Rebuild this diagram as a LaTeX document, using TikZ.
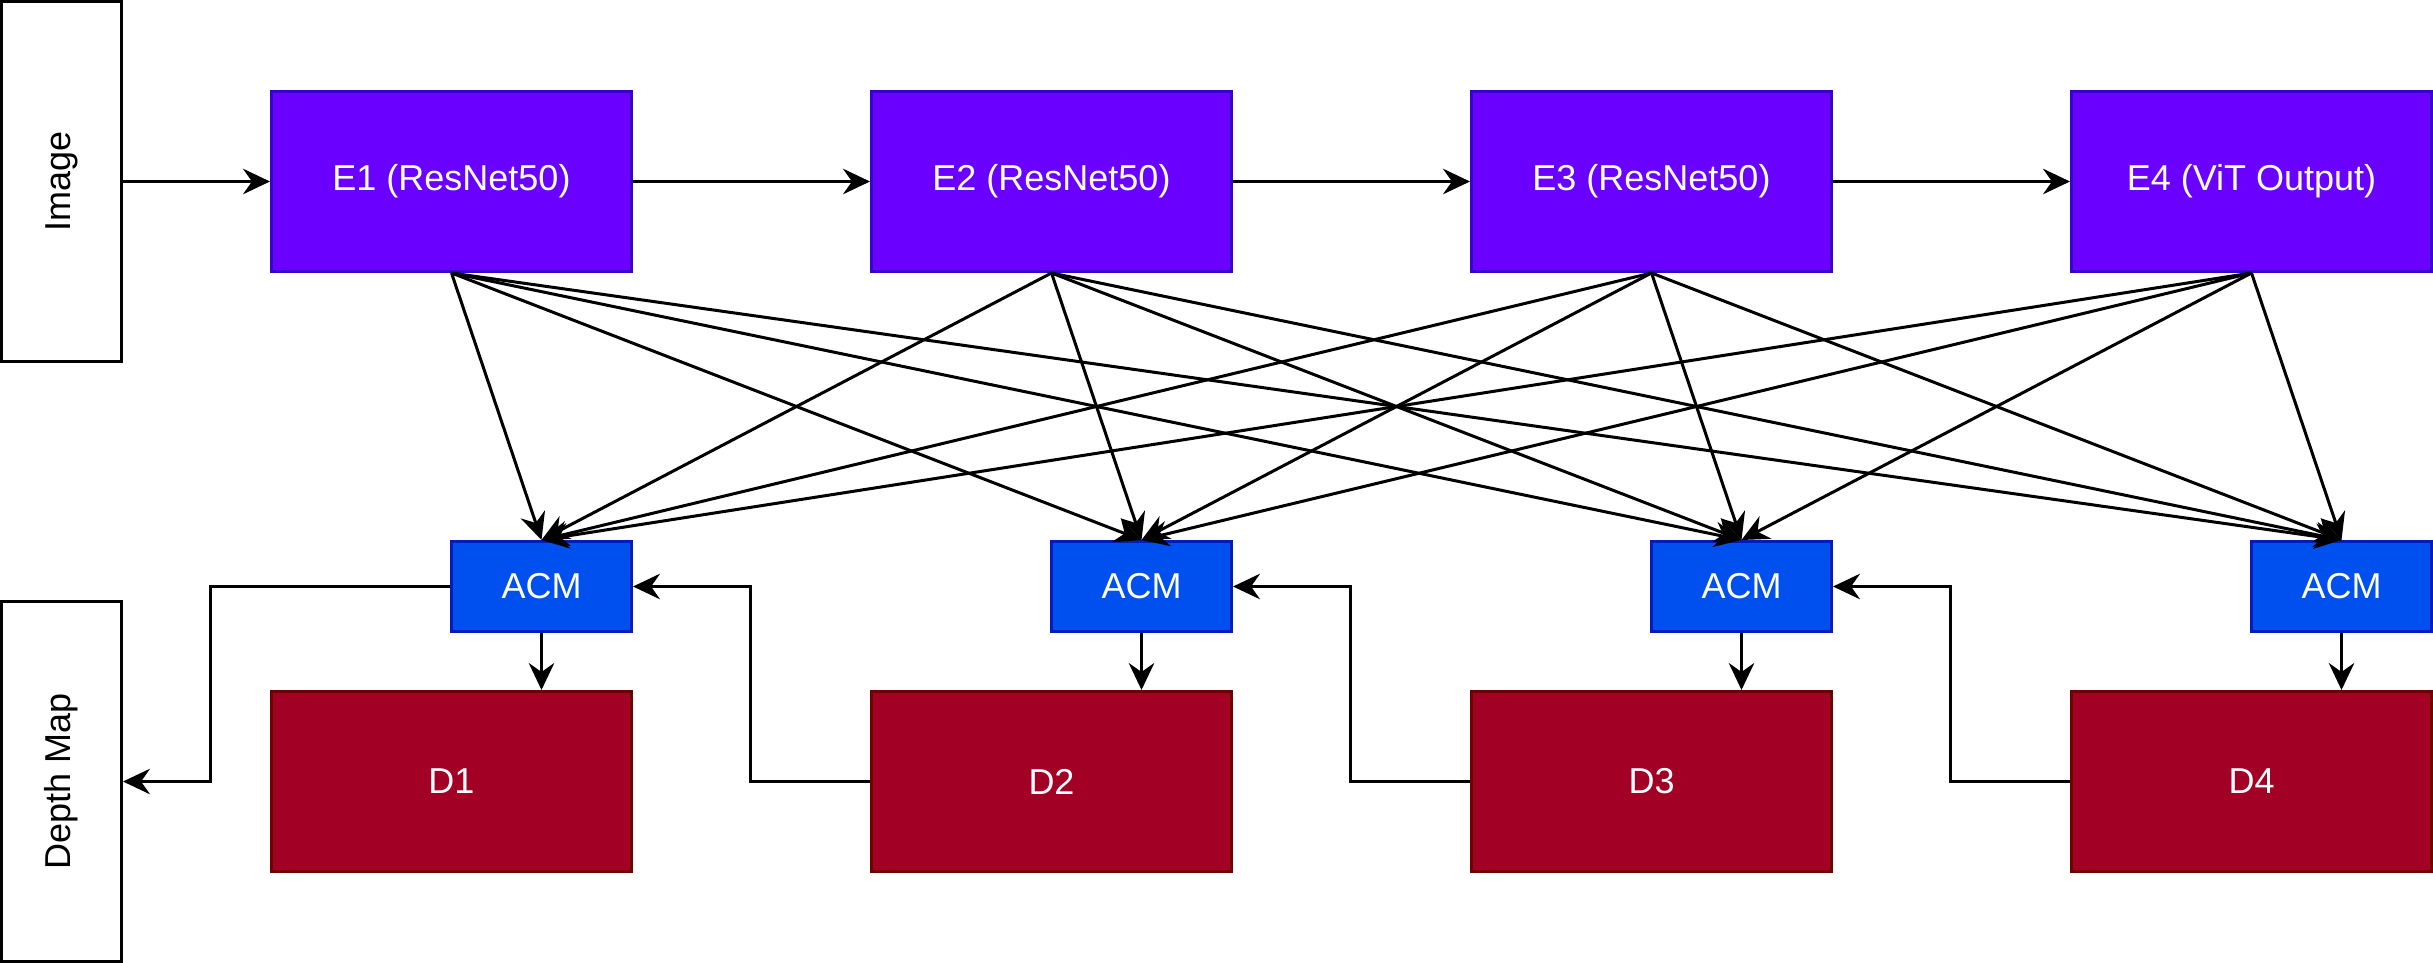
\documentclass[tikz,border=0pt]{standalone}
\usepackage{fontspec}
\setmainfont{Liberation Sans}
\usepackage{tikz}
\usetikzlibrary{positioning,arrows.meta}

\definecolor{encfill}{HTML}{6A00FF}
\definecolor{encline}{HTML}{3700CC}
\definecolor{acmfill}{HTML}{0050EF}
\definecolor{acmline}{HTML}{001DBC}
\definecolor{decfill}{HTML}{A20025}
\definecolor{decline}{HTML}{6F0000}

\tikzset{
  box/.style = {rectangle, line width=1pt, inner sep=0pt, text=white,
    font=\fontsize{12}{14}\selectfont},
  enc/.style = {box, fill=encfill, draw=encline, minimum width=120pt, minimum height=60pt},
  acm/.style = {box, fill=acmfill, draw=acmline, minimum width=60pt, minimum height=30pt},
  dec/.style = {box, fill=decfill, draw=decline, minimum width=120pt, minimum height=60pt},
  side/.style = {rectangle, draw, line width=1pt, inner sep=0pt, rotate=90,
    minimum width=120pt, minimum height=40pt, font=\fontsize{12}{14}\selectfont},
  link/.style = {line width=1pt, -{Stealth[length=9pt, width=8.5pt, inset=3pt]}}
}

\begin{document}
\begin{tikzpicture}[x=1pt, y=-1pt]
\useasboundingbox (-0.5,-0.5) rectangle (810.5,320.5);

\node[side] (img) at (20,60) {Image};
\node[side] (depth) at (20,260) {Depth Map};

\node[enc] (e1) at (150,60) {E1 (ResNet50)};
\node[enc] (e2) at (350,60) {E2 (ResNet50)};
\node[enc] (e3) at (550,60) {E3 (ResNet50)};
\node[enc] (e4) at (750,60) {E4 (ViT Output)};

\foreach \i/\x in {1/180, 2/380, 3/580, 4/780}
  \node[acm] (acm\i) at (\x,195) {ACM};

\foreach \i/\x in {1/150, 2/350, 3/550, 4/750}
  \node[dec] (d\i) at (\x,260) {D\i};

% encoder chain
\draw[link] (img.south) -- (e1.west);
\draw[link] (e1) -- (e2);
\draw[link] (e2) -- (e3);
\draw[link] (e3) -- (e4);

% every encoder feeds every ACM
\foreach \i in {1,...,4}
  \foreach \j in {1,...,4}
    \draw[link] (e\i.south) -- (acm\j.north);

\foreach \i in {1,...,4}
  \draw[link] (acm\i.south) -- (acm\i.south |- d\i.north);

% decoder back to previous ACM
\draw[link] (d2.west) -- ++(-40,0) |- (acm1.east);
\draw[link] (d3.west) -- ++(-40,0) |- (acm2.east);
\draw[link] (d4.west) -- ++(-40,0) |- (acm3.east);

\draw[link] (acm1.west) -- ++(-80,0) |- (depth.south);
\end{tikzpicture}
\end{document}
